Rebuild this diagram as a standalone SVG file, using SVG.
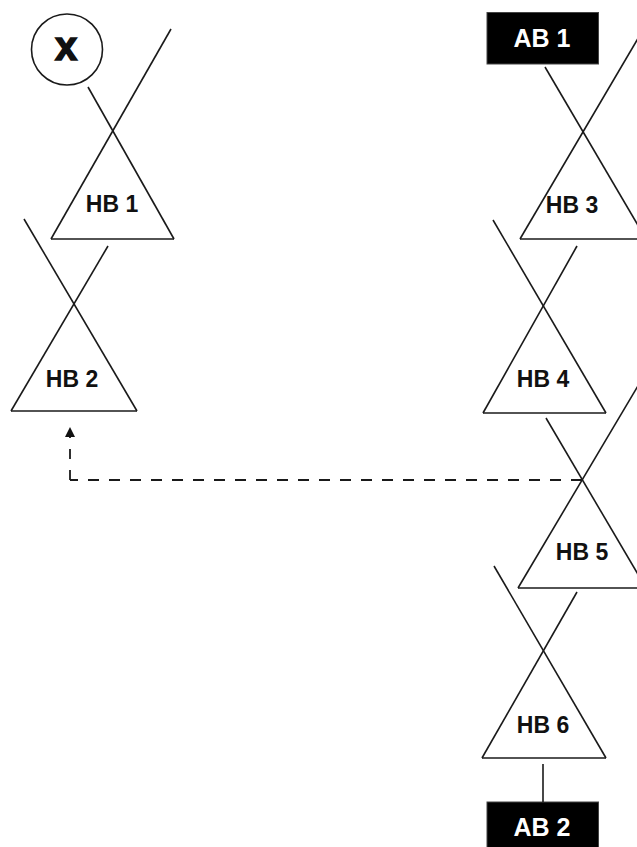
<svg xmlns="http://www.w3.org/2000/svg" width="637" height="847" viewBox="0 0 637 847">
<defs>
<style>
.ln{stroke:#1a1a1a;stroke-width:1.6;fill:none;stroke-linecap:butt}
.lb{font-family:"Liberation Sans",Arial,sans-serif;font-weight:bold;font-size:23px;fill:#111;text-anchor:middle}
.ab{font-family:"Liberation Sans",Arial,sans-serif;font-weight:bold;font-size:25px;fill:#fff;text-anchor:middle}
.box{fill:#000;stroke:#444;stroke-width:1}
.dash{stroke:#1a1a1a;stroke-width:1.8;fill:none}
</style>
<marker id="ah" viewBox="0 0 10 10" refX="0" refY="5" markerWidth="10" markerHeight="10" markerUnits="userSpaceOnUse" orient="auto">
<path d="M0,0 L10,5 L0,10 Z" fill="#111"/>
</marker>
</defs>
<rect width="637" height="847" fill="#fff"/>

<g id="X">
<circle cx="67" cy="49.5" r="35.5" fill="#fff" stroke="#1a1a1a" stroke-width="1.6"/>
<text x="66" y="60" font-family="Liberation Sans,Arial,sans-serif" font-weight="bold" font-size="40" fill="#111" stroke="#111" stroke-width="1.5" text-anchor="middle">x</text>
</g>

<g id="AB1">
<rect class="box" x="487" y="12.5" width="111.5" height="51.5"/>
<text class="ab" x="542" y="47">AB 1</text>
</g>

<g id="AB2">
<rect class="box" x="487" y="802" width="111.5" height="50"/>
<text class="ab" x="542" y="836">AB 2</text>
</g>

<g id="HB1">
<line class="ln" x1="51" y1="239" x2="174" y2="239"/>
<line class="ln" x1="51" y1="239" x2="171" y2="29"/>
<line class="ln" x1="174" y1="239" x2="88" y2="87"/>
<text class="lb" x="112" y="212">HB 1</text>
</g>

<g id="HB2">
<line class="ln" x1="11" y1="411" x2="137" y2="411"/>
<line class="ln" x1="11" y1="411" x2="108" y2="246"/>
<line class="ln" x1="137" y1="411" x2="24" y2="219"/>
<text class="lb" x="72" y="387">HB 2</text>
</g>

<g id="HB3">
<line class="ln" x1="520" y1="239" x2="650" y2="239"/>
<line class="ln" x1="520" y1="239" x2="650" y2="18"/>
<line class="ln" x1="646" y1="239" x2="545" y2="67"/>
<text class="lb" x="572" y="213">HB 3</text>
</g>

<g id="HB4">
<line class="ln" x1="483" y1="413" x2="606" y2="413"/>
<line class="ln" x1="483" y1="413" x2="577" y2="246"/>
<line class="ln" x1="606" y1="413" x2="493" y2="220"/>
<text class="lb" x="543" y="387">HB 4</text>
</g>

<g id="HB5">
<line class="ln" x1="518" y1="588" x2="650" y2="588"/>
<line class="ln" x1="518" y1="588" x2="645" y2="374"/>
<line class="ln" x1="646" y1="588" x2="546" y2="418"/>
<text class="lb" x="582" y="560">HB 5</text>
</g>

<g id="HB6">
<line class="ln" x1="482" y1="758" x2="606" y2="758"/>
<line class="ln" x1="482" y1="758" x2="577" y2="592"/>
<line class="ln" x1="606" y1="758" x2="494" y2="566"/>
<text class="lb" x="543" y="733">HB 6</text>
</g>

<g id="connectors">
<line class="ln" x1="543" y1="764" x2="543" y2="802"/>
<path class="dash" d="M582,480 H70" stroke-dasharray="11 10"/>
<path class="dash" d="M70,480 V437" stroke-dasharray="10 11" marker-end="url(#ah)"/>
</g>
</svg>
